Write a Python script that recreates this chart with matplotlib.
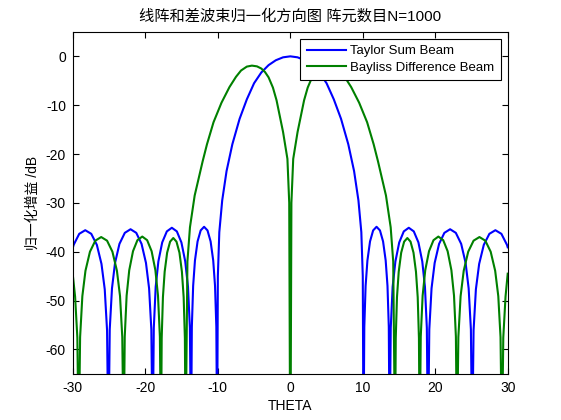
import matplotlib
matplotlib.use('Agg')
import matplotlib.pyplot as plt

plt.rcParams['font.family'] = ['Liberation Sans', 'Noto Sans CJK SC', 'DejaVu Sans']
plt.rcParams['axes.unicode_minus'] = False

# Taylor sum beam (deg, dB)
theta_sum = [
    -30.0, -29.9, -29.13, -28.3, -27.47, -26.7, -26.06, -25.61, -25.29, -25.1,
    -24.92, -24.61, -24.19, -23.58, -22.84, -22.05, -21.26, -20.53, -19.92, -19.49, -19.18, -19.0,
    -18.84, -18.58, -18.21, -17.68, -17.04, -16.35, -15.66, -15.03, -14.5, -14.12, -13.86, -13.7,
    -13.59, -13.41, -13.16, -12.8, -12.37, -11.9, -11.43, -11.0, -10.64, -10.39, -10.21, -10.1,
    -10.0, -9.8, -9.4, -8.8, -8.0, -7.0, -6.0, -5.0, -4.0, -3.0, -2.0, -1.0, 0.0,
    1.0, 2.0, 3.0, 4.0, 5.0, 6.0, 7.0, 8.0, 8.8, 9.4, 9.8, 10.0, 10.1,
    10.21, 10.39, 10.64, 11.0, 11.43, 11.9, 12.37, 12.8, 13.16, 13.41, 13.59, 13.7,
    13.86, 14.12, 14.5, 15.03, 15.66, 16.35, 17.04, 17.68, 18.21, 18.58, 18.84, 19.0,
    19.18, 19.49, 19.92, 20.53, 21.26, 22.05, 22.84, 23.58, 24.19, 24.61, 24.92, 25.1,
    25.29, 25.61, 26.06, 26.7, 27.47, 28.3, 29.13, 29.9, 30.0,
]
gain_sum = [
    -39.1, -38.6, -36.34, -35.6, -36.34, -38.6, -42.5, -47.7, -56.1, -80,
    -55.9, -47.5, -42.3, -38.4, -36.14, -35.4, -36.14, -38.4, -42.3, -47.5, -55.9, -80,
    -55.6, -47.2, -42.0, -38.1, -35.84, -35.1, -35.84, -38.1, -42.0, -47.2, -55.6, -80,
    -55.4, -47.0, -41.8, -37.9, -35.64, -34.9, -35.64, -37.9, -41.8, -47.0, -55.4, -80,
    -45, -36, -29.5, -23.5, -18.0, -12.8, -8.8, -5.5, -3.3, -1.8, -0.8, -0.2, 0.0,
    -0.2, -0.8, -1.8, -3.3, -5.5, -8.8, -12.8, -18.0, -23.5, -29.5, -36, -45, -80,
    -55.4, -47.0, -41.8, -37.9, -35.64, -34.9, -35.64, -37.9, -41.8, -47.0, -55.4, -80,
    -55.6, -47.2, -42.0, -38.1, -35.84, -35.1, -35.84, -38.1, -42.0, -47.2, -55.6, -80,
    -55.9, -47.5, -42.3, -38.4, -36.14, -35.4, -36.14, -38.4, -42.3, -47.5, -55.9, -80,
    -56.1, -47.7, -42.5, -38.6, -36.34, -35.6, -36.34, -38.6, -39.1,
]

# Bayliss difference beam (deg, dB)
theta_diff = [
    -30.0, -29.7, -29.39, -29.2,
    -29.01, -28.7, -28.27, -27.65, -26.91, -26.1, -25.29, -24.55, -23.93, -23.5, -23.19, -23.0,
    -22.85, -22.59, -22.23, -21.71, -21.1, -20.43, -19.76, -19.14, -18.62, -18.26, -18.0, -17.85,
    -17.75, -17.58, -17.34, -17.0, -16.59, -16.15, -15.71, -15.3, -14.96, -14.72, -14.55, -14.45,
    -14.2, -13.85, -13.2, -12.1, -11.5, -10.6, -9.5, -8.4, -7.5, -6.8, -6.0, -5.3, -4.6, -4.0,
    -3.5, -3.0, -2.4, -1.9, -1.0, -0.4, -0.15, 0.0,
    0.15, 0.4, 1.0, 1.9, 2.4, 3.0, 3.5, 4.0, 4.6, 5.3, 6.0, 6.8, 7.5, 8.4, 9.5, 10.6, 11.5, 12.1,
    13.2, 13.85, 14.2,
    14.45, 14.55, 14.72, 14.96, 15.3, 15.71, 16.15, 16.59, 17.0, 17.34, 17.58, 17.75, 17.85,
    18.0, 18.26, 18.62, 19.14, 19.76, 20.43, 21.1, 21.71, 22.23, 22.59, 22.85, 23.0,
    23.19, 23.5, 23.93, 24.55, 25.29, 26.1, 26.91, 27.65, 28.27, 28.7, 29.01, 29.2,
    29.39, 29.7, 30.0,
]
gain_diff = [
    -45.0, -49.2, -57.6, -80,
    -57.5, -49.1, -43.9, -40.0, -37.74, -37.0, -37.74, -40.0, -43.9, -49.1, -57.5, -80,
    -57.4, -49.0, -43.8, -39.9, -37.64, -36.9, -37.64, -39.9, -43.8, -49.0, -57.4, -80,
    -57.7, -49.3, -44.1, -40.2, -37.94, -37.2, -37.94, -40.2, -44.1, -49.3, -57.7, -80,
    -42, -35, -28.5, -21.5, -18, -13.5, -9.5, -6.3, -4.2, -2.9, -2.1, -1.9, -2.05, -2.5,
    -3.2, -4.3, -6.4, -9, -15.5, -21, -30, -90,
    -30, -21, -15.5, -9, -6.4, -4.3, -3.2, -2.5, -2.05, -1.9, -2.1, -2.9, -4.2, -6.3, -9.5, -13.5,
    -18, -21.5, -28.5, -35, -42,
    -80, -57.7, -49.3, -44.1, -40.2, -37.94, -37.2, -37.94, -40.2, -44.1, -49.3, -57.7, -80,
    -57.4, -49.0, -43.8, -39.9, -37.64, -36.9, -37.64, -39.9, -43.8, -49.0, -57.4, -80,
    -57.5, -49.1, -43.9, -40.0, -37.74, -37.0, -37.74, -40.0, -43.9, -49.1, -57.5, -80,
    -57.6, -49.2, -44.5,
]

x_ticks = [-30, -20, -10, 0, 10, 20, 30]
y_ticks = [-60, -50, -40, -30, -20, -10, 0]

fig = plt.figure(figsize=(5.61, 4.2), dpi=100)
ax = fig.add_axes([0.13, 0.11, 0.775, 0.814])

ax.plot(theta_sum, gain_sum, color='#0000ff', linewidth=1.5, label='Taylor Sum Beam')
ax.plot(theta_diff, gain_diff, color='#008000', linewidth=1.5, label='Bayliss Difference Beam')

ax.set_xlim([-30, 30])
ax.set_ylim([-65, 5])
ax.set_xticks(x_ticks)
ax.set_yticks(y_ticks)
ax.tick_params(direction='in', length=4, width=0.8, top=True, right=True, labelsize=10, pad=5)
for sp in ax.spines.values():
    sp.set_linewidth(0.8)

ax.set_xlabel('THETA', fontsize=10, labelpad=3)
ax.set_ylabel('归一化增益 /dB', fontsize=10, labelpad=4)
ax.set_title('线阵和差波束归一化方向图 阵元数目N=1000', fontsize=11, pad=8)

leg = ax.legend(loc='upper right', fontsize=9.5, handlelength=3.0, handletextpad=0.3,
                borderpad=0.5, fancybox=False, framealpha=1, edgecolor='black',
                borderaxespad=0.5, labelspacing=0.3)
leg.get_frame().set_linewidth(0.8)

plt.savefig('out.png', dpi=100)
